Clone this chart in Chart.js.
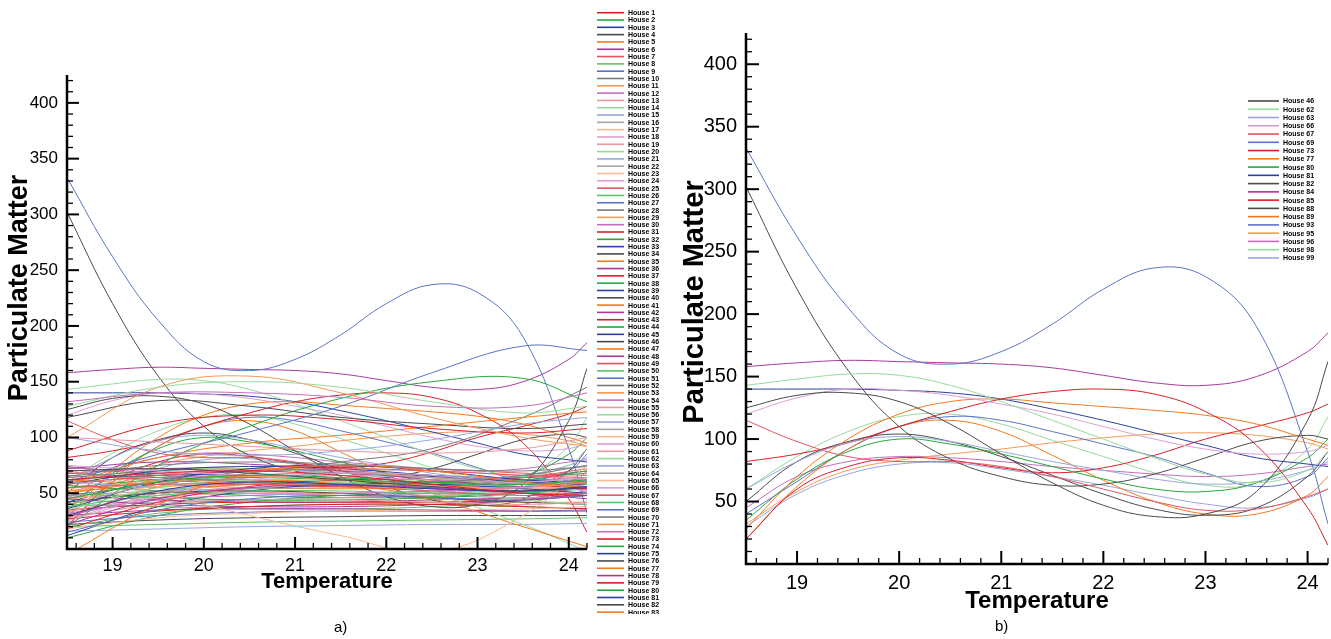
<!DOCTYPE html>
<html>
<head>
<meta charset="utf-8">
<script src="https://cdn.jsdelivr.net/npm/chart.js@4/dist/chart.umd.min.js"></script>
<style>
  body { margin: 0; background: #fff; width: 1331px; height: 639px; overflow: hidden; position: relative;
         font-family: "Liberation Sans", Arial, sans-serif; }
  #chartA { position: absolute; left: 0; top: 0; }
  #chartB { position: absolute; left: 665px; top: 0; }
  .cap { position: absolute; font-size: 15px; color: #000; }
</style>
</head>
<body>
<canvas id="chartA" width="665" height="639"></canvas>
<canvas id="chartB" width="666" height="639"></canvas>
<div class="cap" style="left:334px;top:618px">a)</div>
<div class="cap" style="left:995px;top:617px">b)</div>
<script>
// temperatures where the curves were read
const tempsFine = [18.5, 19, 19.5, 20, 20.5, 21, 21.5, 22, 22.5, 23, 23.5, 24, 24.2];
const tempsCoarse = [18.5, 19.5, 20.5, 21.5, 22.5, 23.5, 24.2];
const xTickValues = [19, 20, 21, 22, 23, 24];
const yTickValues = [50, 100, 150, 200, 250, 300, 350, 400];

// houses of panel b, in its legend order (read at tempsFine)
const fineHouses = [46, 62, 63, 66, 67, 69, 73, 77, 80, 81, 82, 84, 85, 88, 89, 93, 95, 96, 98, 99];
const fineValues = [
  [125, 135, 137, 130, 112, 88, 65, 47, 38, 40, 58, 115, 162],
  [143, 148, 152, 151, 143, 130, 115, 100, 85, 72, 65, 75, 90],
  [60, 82, 97, 102, 98, 90, 82, 75, 68, 64, 66, 75, 82],
  [120, 133, 140, 139, 135, 128, 120, 110, 100, 92, 88, 90, 95],
  [115, 98, 86, 82, 82, 78, 70, 60, 50, 43, 44, 54, 60],
  [333, 262, 205, 168, 160, 170, 192, 220, 237, 230, 190, 90, 32],
  [82, 88, 97, 110, 122, 132, 138, 140, 136, 122, 95, 45, 15],
  [28, 70, 100, 120, 130, 132, 129, 126, 123, 119, 112, 100, 95],
  [35, 68, 90, 100, 96, 88, 78, 68, 60, 58, 65, 85, 100],
  [140, 140, 140, 139, 137, 132, 124, 115, 105, 95, 85, 80, 78],
  [302, 220, 155, 110, 84, 70, 63, 64, 72, 85, 98, 103, 100],
  [158, 161, 163, 162, 161, 160, 157, 151, 145, 143, 150, 170, 185],
  [20, 60, 78, 85, 83, 77, 73, 77, 87, 100, 110, 121, 128],
  [50, 82, 98, 104, 98, 86, 71, 56, 44, 39, 45, 70, 90],
  [20, 62, 92, 110, 115, 106, 87, 67, 50, 40, 40, 55, 70],
  [40, 66, 92, 110, 118, 115, 106, 96, 86, 73, 62, 70, 85],
  [32, 58, 75, 83, 88, 92, 97, 101, 104, 105, 103, 97, 92],
  [45, 70, 82, 86, 85, 82, 78, 75, 72, 70, 72, 78, 80],
  [60, 86, 106, 118, 120, 112, 99, 86, 73, 63, 65, 92, 118],
  [30, 56, 72, 80, 81, 76, 70, 63, 55, 48, 45, 53, 60]
];

// the other houses, only in panel a (read at tempsCoarse)
const coarseHouses = [1, 2, 3, 4, 5, 6, 7, 8, 9, 10, 11, 12, 13, 14, 15, 16, 17, 18, 19, 20,
  21, 22, 23, 24, 25, 26, 27, 28, 29, 30, 31, 32, 33, 34, 35, 36, 37, 38, 39, 40,
  41, 42, 43, 44, 45, 47, 48, 49, 50, 51, 52, 53, 54, 55, 56, 57, 58, 59, 60, 61,
  64, 65, 68, 70, 71, 72, 74, 75, 76, 78, 79, 83, 86, 87, 90, 91, 92, 94, 97];
const coarseValues = [
  [62, 68, 70, 66, 58, 50, 48], [45, 60, 66, 64, 60, 58, 62], [30, 52, 60, 58, 54, 52, 56],
  [70, 72, 68, 62, 56, 52, 55], [-5, 40, 68, 75, 70, 60, 55], [22, 45, 55, 57, 55, 50, 45],
  [55, 58, 58, 56, 52, 48, 50], [38, 48, 52, 52, 50, 50, 58], [15, 35, 45, 48, 46, 44, 48],
  [68, 64, 60, 58, 60, 66, 75], [52, 62, 65, 62, 57, 55, 60], [132, 140, 140, 136, 128, 128, 140],
  [28, 40, 44, 44, 42, 40, 42], [128, 145, 150, 145, 132, 122, 128], [60, 55, 50, 48, 50, 55, 62],
  [40, 58, 66, 68, 64, 58, 56], [18, 28, 32, 34, 35, 36, 38], [75, 70, 66, 64, 62, 60, 64],
  [100, 96, 92, 88, 86, 90, 100], [35, 55, 62, 60, 52, 44, 40], [100, 88, 84, 88, 98, 112, 118],
  [48, 52, 54, 55, 56, 58, 62], [70, 50, 30, 12, -3, 30, 75], [25, 48, 62, 68, 66, 58, 52],
  [58, 66, 70, 72, 70, 66, 64], [20, 22, 24, 25, 26, 27, 28], [60, 85, 105, 128, 158, 182, 178],
  [65, 75, 78, 76, 72, 70, 74], [100, 145, 155, 140, 118, 100, 92], [32, 44, 48, 50, 52, 56, 64],
  [88, 112, 120, 116, 108, 104, 108], [50, 46, 44, 44, 46, 50, 56], [12, 38, 52, 58, 58, 54, 50],
  [42, 50, 52, 50, 46, 42, 40], [58, 82, 95, 102, 110, 118, 123], [72, 78, 76, 70, 62, 56, 58],
  [27, 34, 38, 40, 40, 38, 36], [55, 62, 64, 62, 60, 62, 70], [36, 60, 72, 75, 70, 62, 60],
  [118, 133, 128, 118, 112, 108, 112], [62, 58, 55, 54, 55, 58, 60], [45, 40, 38, 38, 40, 44, 50],
  [18, 42, 56, 62, 62, 58, 54], [20, 75, 110, 135, 150, 153, 132], [58, 70, 74, 72, 66, 60, 58],
  [50, 60, 62, 58, 45, 20, 2], [30, 35, 36, 36, 35, 34, 34], [66, 62, 58, 56, 58, 64, 72],
  [40, 52, 58, 60, 58, 56, 58], [24, 30, 33, 34, 34, 34, 35], [48, 58, 68, 78, 90, 118, 145],
  [50, 66, 72, 70, 64, 58, 56], [73, 68, 62, 58, 54, 52, 54], [34, 46, 50, 50, 48, 46, 48],
  [60, 70, 72, 66, 50, 22, -2], [16, 18, 20, 21, 22, 22, 23], [60, 64, 66, 66, 64, 62, 62],
  [44, 56, 60, 58, 55, 54, 58], [26, 50, 64, 70, 70, 66, 62], [70, 60, 52, 48, 48, 52, 58],
  [38, 42, 44, 46, 48, 52, 60], [54, 60, 62, 60, 56, 52, 50], [20, 32, 38, 40, 40, 38, 36],
  [64, 70, 72, 70, 66, 64, 68], [46, 50, 50, 48, 45, 42, 42], [30, 46, 54, 56, 54, 50, 48],
  [57, 52, 48, 46, 47, 50, 54], [42, 62, 70, 70, 65, 60, 62], [22, 26, 28, 29, 30, 30, 30],
  [68, 72, 72, 68, 64, 62, 64], [35, 40, 42, 42, 42, 44, 48], [52, 56, 58, 58, 56, 54, 54],
  [10, 30, 42, 48, 50, 50, 50], [62, 66, 66, 62, 58, 56, 60], [48, 44, 42, 42, 44, 46, 48],
  [28, 56, 70, 74, 72, 68, 66], [40, 38, 36, 36, 38, 44, 52], [74, 66, 60, 58, 60, 64, 70],
  [33, 50, 58, 62, 62, 60, 60]
];

// tecplot-like colour cycle : red, green, blue, gray, orange, magenta, in 3 shades
const families = [
  ['#d81e28', '#e25560', '#ec979c'],
  ['#25a83c', '#5dc267', '#97d99b'],
  ['#2b3f9e', '#5b73c7', '#97a7dc'],
  ['#4a4a4a', '#7a7a7a', '#a6a6a6'],
  ['#f47a1f', '#f79a55', '#f9b88e'],
  ['#a8399b', '#c66cbb', '#dc9fd3']
];
function houseColor(h) {
  const fam = families[(h - 1) % 6];
  const p = (h - 1 + 12) % 42;
  const shade = p < 18 ? 0 : (p < 24 || p >= 36) ? 1 : 2;
  return fam[shade];
}

function houseDataset(h) {
  let i = fineHouses.indexOf(h);
  let pts;
  if (i >= 0) pts = tempsFine.map((t, k) => ({ x: t, y: fineValues[i][k] }));
  else {
    i = coarseHouses.indexOf(h);
    pts = tempsCoarse.map((t, k) => ({ x: t, y: coarseValues[i][k] }));
  }
  return { label: 'House ' + h, data: pts, borderColor: houseColor(h), borderWidth: 1,
           pointRadius: 0, fill: false, tension: 0.4 };
}

// axes lines, inward ticks (major + minor) and axis titles
const framePlugin = {
  id: 'frame',
  afterDatasetsDraw(chart, args, o) {
    const ctx = chart.ctx, a = chart.chartArea;
    const xs = chart.scales.x, ys = chart.scales.y;
    ctx.save();
    ctx.strokeStyle = '#000';
    ctx.lineWidth = 1.3;
    for (let v = 18.6; v < 24.21; v += 0.2) {
      const r = Math.round(v * 10) / 10;
      if (Math.abs(r - Math.round(r)) < 0.01) continue;
      const px = xs.getPixelForValue(r);
      ctx.beginPath(); ctx.moveTo(px, a.bottom); ctx.lineTo(px, a.bottom - o.minor); ctx.stroke();
    }
    for (let v = 10; v <= 420; v += 10) {
      if (v % 50 === 0) continue;
      const py = ys.getPixelForValue(v);
      ctx.beginPath(); ctx.moveTo(a.left, py); ctx.lineTo(a.left + o.minor, py); ctx.stroke();
    }
    ctx.lineWidth = 2;
    xTickValues.forEach(v => {
      const px = xs.getPixelForValue(v);
      ctx.beginPath(); ctx.moveTo(px, a.bottom); ctx.lineTo(px, a.bottom - o.major); ctx.stroke();
    });
    yTickValues.forEach(v => {
      const py = ys.getPixelForValue(v);
      ctx.beginPath(); ctx.moveTo(a.left, py); ctx.lineTo(a.left + o.major, py); ctx.stroke();
    });
    ctx.lineWidth = 2.5;
    ctx.beginPath();
    ctx.moveTo(a.left, a.top); ctx.lineTo(a.left, a.bottom); ctx.lineTo(a.right, a.bottom);
    ctx.stroke();

    ctx.fillStyle = '#000';
    ctx.textAlign = 'center';
    ctx.textBaseline = 'middle';
    ctx.font = 'bold ' + o.xTitleSize + 'px "Liberation Sans", Arial, sans-serif';
    ctx.fillText('Temperature', (a.left + a.right) / 2, o.xTitleY);
    ctx.translate(o.yTitleX, o.yTitleY);
    ctx.rotate(-Math.PI / 2);
    ctx.font = 'bold ' + o.yTitleSize + 'px "Liberation Sans", Arial, sans-serif';
    ctx.fillText('Particulate Matter', 0, 0);
    ctx.restore();
  }
};

// small legend: a short line and the house name, one per row
const houseLegend = {
  id: 'houseLegend',
  afterDraw(chart, args, o) {
    const ctx = chart.ctx;
    ctx.save();
    ctx.beginPath(); ctx.rect(0, 0, chart.width, o.clipBottom); ctx.clip();
    ctx.font = 'bold ' + o.size + 'px "Liberation Sans", Arial, sans-serif';
    ctx.textBaseline = 'middle';
    ctx.fillStyle = '#000';
    o.houses.forEach((h, k) => {
      const ds = chart.data.datasets.find(d => d.label === 'House ' + h);
      const y = o.y0 + k * o.dy;
      ctx.strokeStyle = ds.borderColor;
      ctx.lineWidth = 1.6;
      ctx.beginPath(); ctx.moveTo(o.x0, y); ctx.lineTo(o.x0 + o.len, y); ctx.stroke();
      ctx.fillText(ds.label, o.x0 + o.len + 4, y + 0.5);
    });
    ctx.restore();
  }
};

function makeChart(id, houses, cfg) {
  const font = '"Liberation Sans", Arial, sans-serif';
  return new Chart(document.getElementById(id), {
    type: 'line',
    data: { datasets: houses.map(houseDataset) },
    options: {
      responsive: false,
      animation: false,
      events: [],
      layout: { padding: cfg.padding },
      plugins: {
        legend: { display: false },
        tooltip: { enabled: false },
        frame: cfg.frame,
        houseLegend: cfg.legend
      },
      scales: {
        x: {
          type: 'linear', min: 18.5, max: 24.2,
          afterFit: s => { s.height = cfg.xHeight; },
          afterBuildTicks: s => { s.ticks = xTickValues.map(v => ({ value: v })); },
          ticks: { color: '#000', font: { family: font, size: cfg.xFont }, padding: cfg.xPad, maxRotation: 0 },
          grid: { display: false, drawTicks: false },
          border: { display: false }
        },
        y: {
          type: 'linear', min: 0, max: 425,
          afterFit: s => { s.width = cfg.yWidth; },
          afterBuildTicks: s => { s.ticks = yTickValues.map(v => ({ value: v })); },
          ticks: { color: '#000', font: { family: font, size: cfg.yFont }, padding: cfg.yPad },
          grid: { display: false, drawTicks: false },
          border: { display: false }
        }
      }
    },
    plugins: [framePlugin, houseLegend]
  });
}

const allHouses = fineHouses.concat(coarseHouses).sort((p, q) => p - q);

makeChart('chartA', allHouses, {
  padding: { left: 0, top: 75, right: 78, bottom: 0 },
  xHeight: 90, yWidth: 67, xFont: 18, yFont: 17, xPad: 6, yPad: 9,
  frame: { major: 12, minor: 6, xTitleSize: 22, xTitleY: 582, yTitleSize: 27, yTitleX: 20, yTitleY: 288 },
  legend: { houses: allHouses, x0: 597, len: 27, y0: 12.7, dy: 7.31, size: 7, clipBottom: 614 }
});

makeChart('chartB', fineHouses, {
  padding: { left: 0, top: 33, right: 3, bottom: 0 },
  xHeight: 75, yWidth: 81, xFont: 20, yFont: 20, xPad: 7, yPad: 9,
  frame: { major: 13, minor: 6, xTitleSize: 24, xTitleY: 601, yTitleSize: 29, yTitleX: 30, yTitleY: 302 },
  legend: { houses: fineHouses, x0: 583, len: 31, y0: 101, dy: 8.26, size: 7, clipBottom: 639 }
});
</script>
</body>
</html>
